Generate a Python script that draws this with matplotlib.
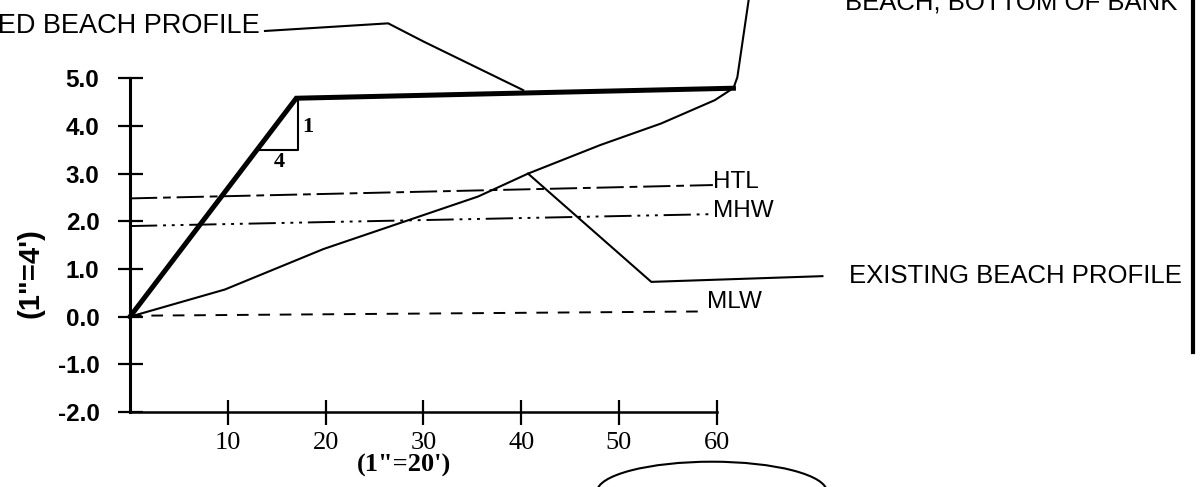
import matplotlib
matplotlib.use("Agg")
import matplotlib.pyplot as plt
from matplotlib.patches import Arc

# ---------------- data ----------------
# proposed (nourished) beach profile, thick line: distance (ft/"=20') vs elevation
proposed_x = [0, 17.0, 61.7]
proposed_y = [0.0, 4.58, 4.79]

# existing beach profile, thin line
existing_x = [0, 9.7, 19.8, 35.6, 40.7, 48.1, 54.3, 59.8, 61.6]
existing_y = [0.0, 0.57, 1.42, 2.52, 3.0, 3.6, 4.05, 4.54, 4.78]

# tidal reference lines (as drawn, slightly skewed by the scan)
htl_x, htl_y = [0, 59.6], [2.48, 2.76]
mhw_x, mhw_y = [0, 59.6], [1.90, 2.15]
mlw_x, mlw_y = [0, 58.7], [0.02, 0.11]

# leader lines
lead_existing_x = [40.7, 53.3, 70.8]
lead_existing_y = [3.0, 0.73, 0.85]
lead_proposed_x = [13.8, 26.4, 30.0, 40.2]
lead_proposed_y = [5.99, 6.15, 5.77, 4.75]
lead_bank_x = [63.3, 62.1, 61.7]
lead_bank_y = [6.70, 5.02, 4.79]

# 1:4 slope triangle
tri_x = [13.3, 17.2, 17.2]
tri_y = [3.49, 3.49, 4.58]

y_ticks = [-2, -1, 0, 1, 2, 3, 4, 5]
y_ticklabels = ["-2.0", "-1.0", "0.0", "1.0", "2.0", "3.0", "4.0", "5.0"]
x_ticks = [10, 20, 30, 40, 50, 60]
x_ticklabels = ["10", "20", "30", "40", "50", "60"]

# ---------------- figure ----------------
W, H = 1201, 487
fig = plt.figure(figsize=(W / 100, H / 100), dpi=100)
ax = fig.add_axes([0, 0, 1, 1])

# pixel mapping: x_px = 130 + 9.78*x ; y_px = 316.7 - 47.7*y
sx, ox = 9.78, 130.0
sy, oy = 47.7, 316.7
ax.set_xlim(-ox / sx, (W - ox) / sx)
ax.set_ylim((oy - H) / sy, oy / sy)

sans = "Liberation Sans"
serif = "Liberation Serif"

# axes spines
for s in ["top", "right"]:
    ax.spines[s].set_visible(False)
ax.spines["left"].set_position(("data", 0))
ax.spines["bottom"].set_position(("data", -2))
ax.spines["left"].set_bounds(-2, 5)
ax.spines["bottom"].set_bounds(0, 60)
ax.spines["left"].set_linewidth(2.2)
ax.spines["bottom"].set_linewidth(1.8)

ax.set_yticks(y_ticks)
ax.set_yticklabels(y_ticklabels, fontfamily=sans, fontsize=17.5, fontweight="bold")
ax.set_xticks(x_ticks)
ax.set_xticklabels(x_ticklabels, fontfamily=serif, fontsize=19)
ax.tick_params(axis="y", direction="inout", length=18, width=1.6, pad=13)
ax.tick_params(axis="x", direction="inout", length=18, width=1.6, pad=5)

# profiles
ax.plot(proposed_x, proposed_y, color="black", lw=3.6, solid_joinstyle="miter")
ax.plot(existing_x, existing_y, color="black", lw=1.5)
ax.plot(tri_x, tri_y, color="black", lw=1.5)
ax.plot(lead_existing_x, lead_existing_y, color="black", lw=1.5)
ax.plot(lead_proposed_x, lead_proposed_y, color="black", lw=1.5)
ax.plot(lead_bank_x, lead_bank_y, color="black", lw=1.5)

ax.plot(htl_x, htl_y, color="black", lw=1.4, dashes=(14, 3, 4, 3))
ax.plot(mhw_x, mhw_y, color="black", lw=1.4, dashes=(14, 3, 1.5, 3, 1.5, 3, 1.5, 3))
ax.plot(mlw_x, mlw_y, color="black", lw=1.4, dashes=(6, 5))

# labels
ax.text(htl_x[-1] + 0.05, htl_y[-1] - 0.06, "HTL", fontfamily=sans, fontsize=17.5,
        ha="left", va="baseline")
ax.text(mhw_x[-1] + 0.05, mhw_y[-1] - 0.06, "MHW", fontfamily=sans, fontsize=17.5,
        ha="left", va="baseline")
ax.text(mlw_x[-1] + 0.3, mlw_y[-1] + 0.08, "MLW", fontfamily=sans, fontsize=17.5,
        ha="left", va="baseline")
ax.text(73.5, 0.7, "EXISTING BEACH PROFILE", fontfamily=sans, fontsize=18.5,
        ha="left", va="baseline")
ax.text(13.3, 5.95, "PROPOSED BEACH PROFILE", fontfamily=sans, fontsize=19.5,
        ha="right", va="baseline")
ax.text(73.1, 6.43, "BEACH, BOTTOM OF BANK", fontfamily=sans, fontsize=18.5,
        ha="left", va="baseline")
ax.text(17.6, 3.98, "1", fontfamily=serif, fontsize=16, fontweight="bold",
        ha="left", va="center")
ax.text(15.3, 3.25, "4", fontfamily=serif, fontsize=16, fontweight="bold",
        ha="center", va="center")

ax.text(28.0, -3.11, "(1\"=20')", fontfamily=serif, fontsize=19, fontweight="bold",
        ha="center", va="center")
ax.text(-10.2, 0.92, "(1\"=4')", fontfamily=sans, fontsize=21, fontweight="bold",
        ha="center", va="center", rotation=90)

# right frame line
ax.plot([108.7, 108.7], [6.7, -0.75], color="black", lw=3.0)

# stamp arc at the bottom
ax.add_patch(Arc((59.5, -3.67), 23.5, 1.26, theta1=0, theta2=180, color="black", lw=1.5))

fig.savefig("out.png", dpi=100)
